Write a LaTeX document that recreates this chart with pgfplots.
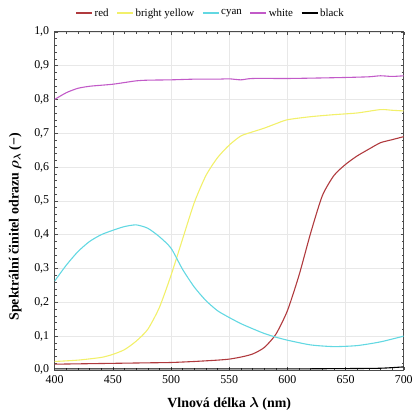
\documentclass[border=0pt]{standalone}
\usepackage{amsmath}
\usepackage{pgfplots}
\pgfplotsset{compat=1.18}
\usetikzlibrary{calc}
\usepackage{fontspec}
\setmainfont{Liberation Serif}
\definecolor{cred}{HTML}{B03A3E}
\definecolor{cyel}{HTML}{F2F06A}
\definecolor{ccya}{HTML}{62D8E2}
\definecolor{cwhi}{HTML}{C25AC8}
\begin{document}
\begin{tikzpicture}
\begin{axis}[
  scale only axis, width=351pt, height=340pt,
  xmin=400, xmax=700, ymin=0, ymax=1,
  xtick={400,450,...,700}, ytick={0,0.1,...,1.0},
  minor x tick num=4, minor y tick num=4,
  tick align=inside, tick pos=both,
  major tick length=3pt, minor tick length=2pt,
  tick style={black!70, line width=0.4pt},
  axis line style={black!70, line width=0.8pt},
  grid=major, major grid style={black!9, line width=0.5pt},
  /pgf/number format/assume math mode=true,
  xticklabel style={font=\fontsize{12}{12}\selectfont, yshift=-2pt, /pgf/number format/1000 sep={}},
  yticklabel style={font=\fontsize{12}{12}\selectfont, xshift=-2pt, /pgf/number format/.cd, use comma, fixed, fixed zerofill, precision=1},
  scaled y ticks=false,
  xlabel={\textbf{Vlnová délka} $\boldsymbol{\lambda}$ \textbf{(nm)}},
  ylabel={\textbf{Spektrální činitel odrazu} $\boldsymbol{\rho_\lambda}$ \textbf{(−)}},
  label style={font=\fontsize{14}{14}\selectfont},
  xlabel style={yshift=-7pt},
  ylabel style={yshift=6pt, xshift=-26pt},
  legend style={at={(0.447,1.03)}, anchor=south, draw=none, fill=none, font=\fontsize{11}{11}\selectfont, /tikz/every even column/.append style={column sep=6pt}},
  legend columns=5,
  legend image code/.code={\draw[#1] (0pt,0pt) -- (16pt,0pt);},
  every axis plot/.append style={line width=1.1pt, smooth, tension=0.4},
]
\addplot[cred] coordinates {(400,0.017)(420,0.018)(440,0.019)(460,0.020)(480,0.021)(500,0.022)(520,0.025)(540,0.029)(550,0.032)(560,0.038)(570,0.047)(580,0.066)(590,0.105)(600,0.175)(610,0.28)(620,0.405)(630,0.515)(640,0.575)(650,0.608)(660,0.633)(670,0.653)(680,0.672)(690,0.681)(700,0.690)};
\addlegendentry{red}
\addplot[cyel] coordinates {(400,0.025)(420,0.029)(440,0.037)(450,0.046)(460,0.060)(470,0.085)(480,0.12)(490,0.185)(500,0.28)(510,0.388)(520,0.495)(530,0.575)(540,0.628)(550,0.665)(560,0.692)(570,0.704)(580,0.715)(590,0.728)(600,0.740)(620,0.749)(640,0.755)(660,0.760)(680,0.770)(690,0.768)(700,0.766)};
\addlegendentry{bright yellow}
\addplot[ccya] coordinates {(400,0.263)(410,0.31)(420,0.35)(430,0.380)(440,0.400)(450,0.413)(460,0.424)(470,0.429)(480,0.419)(490,0.394)(500,0.36)(510,0.297)(520,0.245)(530,0.205)(540,0.175)(550,0.155)(560,0.137)(570,0.122)(580,0.108)(590,0.097)(600,0.088)(620,0.074)(640,0.069)(660,0.072)(680,0.083)(700,0.100)};
\addlegendentry{cyan}
\addplot[cwhi] coordinates {(400,0.800)(410,0.820)(420,0.833)(430,0.839)(440,0.842)(450,0.845)(460,0.850)(470,0.855)(480,0.857)(500,0.858)(520,0.860)(540,0.860)(550,0.861)(560,0.858)(570,0.862)(600,0.862)(620,0.863)(650,0.865)(670,0.867)(680,0.870)(690,0.868)(700,0.870)};
\addlegendentry{white}
\addplot[black] coordinates {(400,0.003)(450,0.003)(500,0.003)(550,0.003)(600,0.003)(650,0.004)(680,0.005)(700,0.009)};
\addlegendentry{black}
\end{axis}
\path ($(current axis.south west)+(-55pt,-44pt)$) rectangle ($(current axis.north east)+(10pt,32pt)$);
\end{tikzpicture}
\end{document}
